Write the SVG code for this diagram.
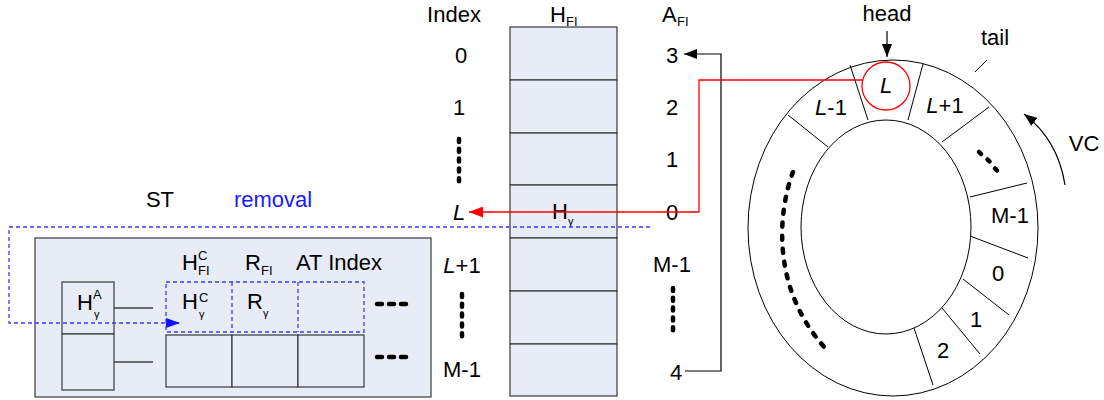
<svg xmlns="http://www.w3.org/2000/svg" width="1104" height="400" viewBox="0 0 1104 400">
  <style>
    text { font-family: "Liberation Sans", Arial, sans-serif; font-size: 22px; fill: #000; }
    .c { text-anchor: middle; }
    .it { font-style: italic; }
    .sub { font-size: 13px; }
    .g { font-size: 11px; }
    .cell { fill: #e7ecf6; stroke: #3a3a3a; stroke-width: 1.2; }
    .thin { fill: none; stroke: #000; stroke-width: 1; }
    .grey { fill: none; stroke: #404040; stroke-width: 1.3; }
    .dots { fill: none; stroke: #000; stroke-width: 4.5; stroke-linecap: round; }
    .blue { fill: none; stroke: #3b3bf5; stroke-width: 1.3; stroke-dasharray: 4 3; }
  </style>
  <defs>
    <marker id="arrBlack" markerUnits="userSpaceOnUse" markerWidth="14" markerHeight="10" refX="13" refY="5" orient="auto">
      <path d="M0,0 L13,5 L0,10 Z" fill="#000"/>
    </marker>
    <marker id="arrRed" markerUnits="userSpaceOnUse" markerWidth="15" markerHeight="11" refX="14" refY="5.5" orient="auto">
      <path d="M0,0 L14,5.5 L0,11 Z" fill="#ff0000"/>
    </marker>
    <marker id="arrBlue" markerUnits="userSpaceOnUse" markerWidth="15" markerHeight="10" refX="14" refY="5" orient="auto">
      <path d="M0,0 L14,5 L0,10 Z" fill="#1010ff"/>
    </marker>
  </defs>

  <!-- ST: secondary table -->
  <g id="st-table">
    <text x="160" y="207" class="c">ST</text>
    <text x="273" y="207" class="c" style="fill:#1a1aff">removal</text>
    <rect x="35" y="238" width="396" height="159" class="cell"/>
    <!-- H^A column -->
    <rect x="62" y="282" width="52" height="52" class="cell"/>
    <rect x="62" y="334" width="52" height="56" class="cell"/>
    <text x="77" y="310">H</text>
    <text x="93" y="299" class="sub">A</text>
    <text x="94" y="318" class="g">γ</text>
    <!-- column headers -->
    <text x="182" y="270">H</text>
    <text x="198" y="260" class="sub">C</text>
    <text x="198" y="275" class="sub">FI</text>
    <text x="245" y="270">R</text>
    <text x="261" y="275" class="sub">FI</text>
    <text x="296" y="270">AT Index</text>
    <!-- entry rows -->
    <rect x="166" y="335" width="66" height="52" class="cell"/>
    <rect x="232" y="335" width="66" height="52" class="cell"/>
    <rect x="298" y="335" width="66" height="52" class="cell"/>
    <text x="182" y="309">H</text>
    <text x="199" y="302" class="sub">C</text>
    <text x="199" y="318" class="g">γ</text>
    <text x="247" y="309">R</text>
    <text x="263" y="317" class="g">γ</text>
    <!-- continuation marks -->
    <path d="M377,304 H382 M389,304 H394 M401,304 H406 M377,357 H382 M389,357 H394 M401,357 H406" class="dots" stroke-width="4.5"/>
    <line x1="114" y1="308" x2="153" y2="308" class="grey"/>
    <line x1="114" y1="362" x2="153" y2="362" class="grey"/>
  </g>

  <!-- H_FI: flow index table -->
  <g id="hfi-table">
    <text x="454" y="22" class="c">Index</text>
    <text x="550" y="22">H</text>
    <text x="566" y="26" class="sub">FI</text>
    <text x="662" y="22">A</text>
    <text x="677" y="26" class="sub">FI</text>
    <rect x="510" y="27" width="107" height="53" class="cell"/>
    <rect x="510" y="80" width="107" height="53" class="cell"/>
    <rect x="510" y="133" width="107" height="52" class="cell"/>
    <rect x="510" y="185" width="107" height="53" class="cell"/>
    <rect x="510" y="238" width="107" height="53" class="cell"/>
    <rect x="510" y="291" width="107" height="53" class="cell"/>
    <rect x="510" y="344" width="107" height="52" class="cell"/>
    <text x="552" y="219">H</text>
    <text x="568" y="225" class="g">γ</text>
    <!-- index column -->
    <text x="461" y="63" class="c">0</text>
    <text x="459" y="115" class="c">1</text>
    <line x1="459" y1="139" x2="459" y2="188" class="dots" stroke-width="4" stroke-dasharray="3 6.8"/>
    <text x="459" y="220" class="c it">L</text>
    <text x="462" y="273" class="c"><tspan class="it">L</tspan>+1</text>
    <line x1="462" y1="294" x2="462" y2="343" class="dots" stroke-width="4" stroke-dasharray="3 6.8"/>
    <text x="462" y="377" class="c">M-1</text>
    <!-- A_FI column -->
    <text x="672" y="63" class="c">3</text>
    <text x="672" y="115" class="c">2</text>
    <text x="672" y="167" class="c">1</text>
    <text x="672" y="220" class="c">0</text>
    <text x="672" y="272" class="c">M-1</text>
    <line x1="673" y1="288" x2="673" y2="337" class="dots" stroke-width="4" stroke-dasharray="3 6.8"/>
    <text x="676" y="380" class="c">4</text>
  </g>

  <!-- VC: ring buffer -->
  <g id="vc-ring">
    <ellipse cx="893" cy="228" rx="145" ry="168" class="thin"/>
    <ellipse cx="886" cy="227" rx="85" ry="107" class="thin" fill="#fff"/>
    <path d="M850,65 L868,120 M923,64 L908,120 M788,115 L828,147 M989,107 L942,142 M1027,183 L970,197 M970,236 L1028,258 M963,279 L1009,315 M942,308 L980,354 M914,328 L933,385" class="thin"/>
    <circle cx="886" cy="86" r="24" fill="none" stroke="#ff0000" stroke-width="1.3"/>
    <text x="886" y="93" class="c it">L</text>
    <text x="831" y="115" class="c"><tspan class="it">L</tspan>-1</text>
    <text x="945" y="113" class="c"><tspan class="it">L</tspan>+1</text>
    <text x="1010" y="223" class="c">M-1</text>
    <text x="998" y="281" class="c">0</text>
    <text x="976" y="327" class="c">1</text>
    <text x="943" y="358" class="c">2</text>
    <path d="M979,152 L981,154 M987.5,159.5 L989.5,161.5 M995,168.5 L997,170.5" class="dots"/>
    <path d="M793,172 C777,215 772,290 826,349" class="dots" stroke-width="5.5" stroke-dasharray="4 9"/>
    <text x="887" y="21" class="c">head</text>
    <text x="995" y="45" class="c">tail</text>
    <line x1="975" y1="72" x2="987" y2="60" class="thin"/>
    <text x="1084" y="151" class="c">VC</text>
  </g>

  <!-- connectors -->
  <g id="connectors">
    <line x1="887" y1="31" x2="887" y2="57" stroke="#000" stroke-width="1.2" marker-end="url(#arrBlack)"/>
    <path d="M1065,185 Q1058,140 1024,114" fill="none" stroke="#000" stroke-width="1.2" marker-end="url(#arrBlack)"/>
    <path d="M685,371 H721 V54 H684" fill="none" stroke="#000" stroke-width="1.2" marker-end="url(#arrBlack)"/>
    <path d="M862,80 H699 V212 H469" fill="none" stroke="#ff0000" stroke-width="1.3" marker-end="url(#arrRed)"/>
    <path d="M650,227 H9 V323 H180" class="blue" marker-end="url(#arrBlue)"/>
    <rect x="166" y="282" width="198" height="50" class="blue"/>
    <line x1="232" y1="282" x2="232" y2="332" class="blue"/>
    <line x1="298" y1="282" x2="298" y2="332" class="blue"/>
  </g>
</svg>
